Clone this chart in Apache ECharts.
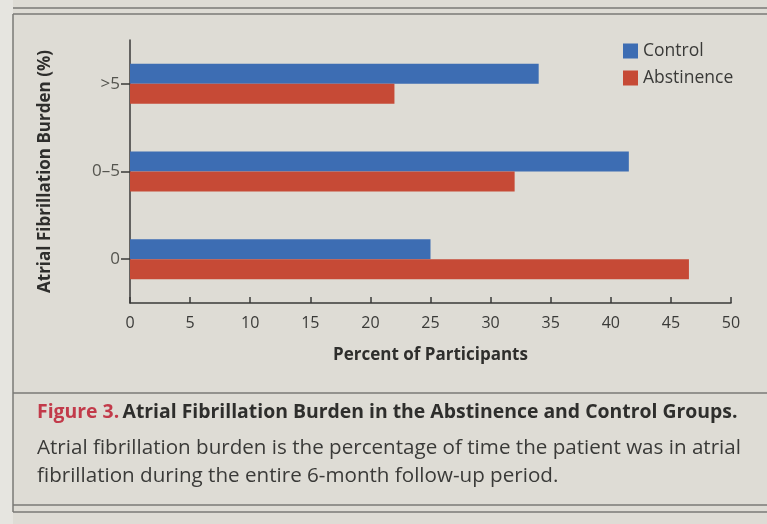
<!DOCTYPE html>
<html><head><meta charset="utf-8">
<script src="https://cdn.jsdelivr.net/npm/echarts@6/dist/echarts.min.js"></script>
<style>html,body{margin:0;padding:0;background:#dedcd5;}#c{width:767px;height:524px;}</style>
</head><body><div id="c"></div>
<script>
const categories = ['0', '0\u20135', '>5'];
const controlValues = [25, 41.5, 34];
const abstinenceValues = [46.5, 32, 22];
const xTicks = [0, 5, 10, 15, 20, 25, 30, 35, 40, 45, 50];

const chart = echarts.init(document.getElementById('c'));
const font = '"Open Sans", "Noto Sans", sans-serif';
chart.setOption({
  backgroundColor: '#dedcd5',
  textStyle: { fontFamily: font },
  animation: false,
  graphic: [
    { type: 'rect', shape: { x: 0, y: 0, width: 13, height: 524 }, style: { fill: '#e6e5e0' }, silent: true },
    { type: 'line', shape: { x1: 13, y1: 8, x2: 767, y2: 8 }, style: { stroke: '#7a7a76', lineWidth: 1.5 } },
    { type: 'line', shape: { x1: 13, y1: 14, x2: 767, y2: 14 }, style: { stroke: '#7a7a76', lineWidth: 1.5 } },
    { type: 'line', shape: { x1: 13, y1: 14, x2: 13, y2: 512 }, style: { stroke: '#7a7a76', lineWidth: 1.5 } },
    { type: 'line', shape: { x1: 13, y1: 393, x2: 767, y2: 393 }, style: { stroke: '#7a7a76', lineWidth: 1.5 } },
    { type: 'line', shape: { x1: 13, y1: 505, x2: 767, y2: 505 }, style: { stroke: '#7a7a76', lineWidth: 1.5 } },
    { type: 'line', shape: { x1: 13, y1: 512, x2: 767, y2: 512 }, style: { stroke: '#7a7a76', lineWidth: 1.5 } },
    { type: 'text', left: 37, top: 403, style: {
        text: '{r|Figure 3.} {b|Atrial Fibrillation Burden in the Abstinence and Control Groups.}',
        rich: {
          r: { fill: '#c23a4a', font: 'bold 19.4px ' + font },
          b: { fill: '#2e2e2c', font: 'bold 19.4px ' + font }
        } } },
    { type: 'text', left: 37, top: 434, style: {
        text: 'Atrial fibrillation burden is the percentage of time the patient was in atrial\nfibrillation during the entire 6-month follow-up period.',
        fill: '#3a3a38', font: '20.6px ' + font, lineHeight: 28 } }
  ],
  legend: {
    data: ['Control', 'Abstinence'],
    orient: 'vertical', left: 618, top: 37,
    itemWidth: 15, itemHeight: 15, itemGap: 9,
    icon: 'rect',
    textStyle: { fontSize: 17.5, color: '#3a3a38', fontFamily: font }
  },
  grid: { left: 130, right: 36, top: 40, bottom: 221, containLabel: false },
  xAxis: {
    type: 'value', min: 0, max: 50, interval: 5,
    name: 'Percent of Participants', nameLocation: 'middle', nameGap: 44,
    nameTextStyle: { fontSize: 17, fontWeight: 'bold', color: '#2e2e2c' },
    axisLine: { show: true, lineStyle: { color: '#3a3a38', width: 1.5 } },
    axisTick: { show: true, inside: true, length: 6, lineStyle: { color: '#3a3a38', width: 1.5 } },
    axisLabel: { fontSize: 16, color: '#3a3a38', margin: 12, formatter: v => xTicks.includes(v) ? String(v) : '' },
    splitLine: { show: false }
  },
  yAxis: {
    type: 'category', data: categories,
    name: 'Atrial Fibrillation Burden (%)', nameLocation: 'middle', nameGap: 76, nameRotate: 90,
    nameTextStyle: { fontSize: 17, fontWeight: 'bold', color: '#2e2e2c' },
    axisLine: { show: true, lineStyle: { color: '#3a3a38', width: 1.5 } },
    axisTick: { show: true, alignWithLabel: true, length: 9, lineStyle: { color: '#3a3a38', width: 1.5 } },
    axisLabel: { fontSize: 17, color: '#55554f', margin: 10 }
  },
  series: [
    { name: 'Control', type: 'bar', data: controlValues, barWidth: 20, barGap: '0%',
      itemStyle: { color: '#3d6db3' } },
    { name: 'Abstinence', type: 'bar', data: abstinenceValues, barWidth: 20, barGap: '0%',
      itemStyle: { color: '#c64a36' } }
  ]
});
</script></body></html>
